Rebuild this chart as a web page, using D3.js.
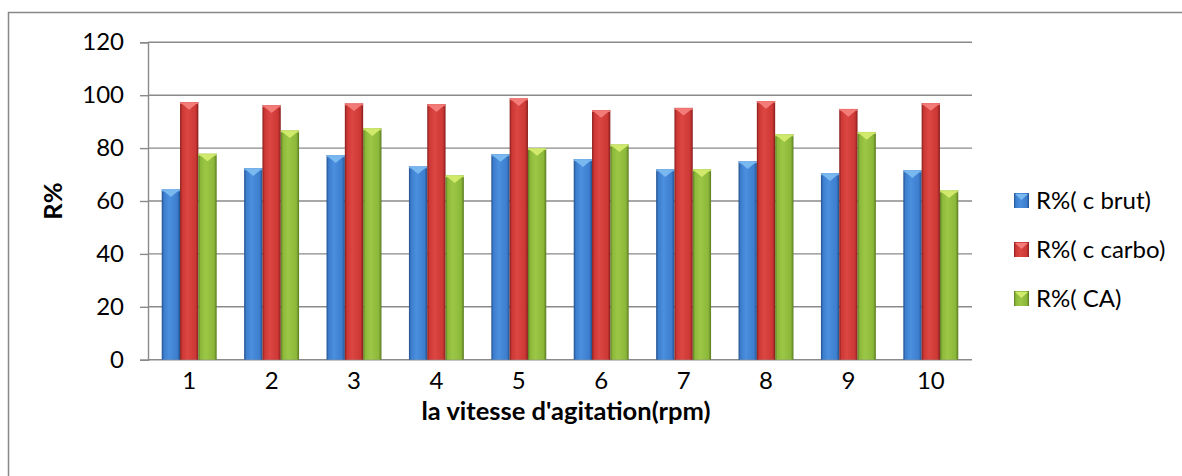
<!DOCTYPE html>
<html>
<head>
<meta charset="utf-8">
<script src="https://cdn.jsdelivr.net/npm/d3@7"></script>
<style>
  html, body { margin: 0; padding: 0; background: #fff; }
  svg { display: block; }
  text { font-family: Lato, "Open Sans", sans-serif; fill: #000; }
</style>
</head>
<body>
<svg id="chart" width="1182" height="476"></svg>
<script>
// Removal rate R% by agitation speed setting
const categories = ["1", "2", "3", "4", "5", "6", "7", "8", "9", "10"];
const seriesNames = ["R%( c brut)", "R%( c carbo)", "R%( CA)"];
const brut  = [64.4, 72.4, 77.3, 73.1, 77.7, 75.8, 72.0, 75.0, 70.5, 71.6];
const carbo = [97.4, 96.2, 96.9, 96.6, 98.8, 94.4, 95.2, 97.8, 94.8, 97.0];
const ca    = [77.9, 86.7, 87.5, 69.7, 80.0, 81.4, 72.0, 85.2, 86.1, 64.0];
const yTicks = [0, 20, 40, 60, 80, 100, 120];
const xTitle = "la vitesse d'agitation(rpm)";
const yTitle = "R%";

const series = [brut, carbo, ca];

// base, light (top bevel) and dark (edge) tones for each series
const palette = [
  { base: "#3d7dcd", light: "#7ab8f0", dark: "#21508c", mid: "#4b8fdf" },
  { base: "#cc3835", light: "#f37c79", dark: "#861d1b", mid: "#dc4643" },
  { base: "#8cb83a", light: "#d2ea6c", dark: "#5a7a20", mid: "#9cc746" }
];

const svg = d3.select("#chart");
const defs = svg.append("defs");

palette.forEach((p, i) => {
  const g = defs.append("linearGradient")
    .attr("id", "body" + i).attr("x1", "0").attr("x2", "1").attr("y1", "0").attr("y2", "0");
  g.append("stop").attr("offset", "0%").attr("stop-color", p.dark);
  g.append("stop").attr("offset", "12%").attr("stop-color", p.base);
  g.append("stop").attr("offset", "40%").attr("stop-color", p.mid);
  g.append("stop").attr("offset", "85%").attr("stop-color", p.base);
  g.append("stop").attr("offset", "100%").attr("stop-color", p.dark);
});

// chart frame
svg.append("rect")
  .attr("x", 8.5).attr("y", 12.5).attr("width", 1200).attr("height", 500)
  .attr("fill", "none").attr("stroke", "#878787").attr("stroke-width", 1.5);

const plot = { left: 148, right: 972, top: 42.3, bottom: 359.7 };

const x0 = d3.scaleBand().domain(categories)
  .range([plot.left, plot.right]).paddingInner(1.5 / 4.5).paddingOuter(0.75 / 4.5);
const x1 = d3.scaleBand().domain(d3.range(series.length))
  .range([0, x0.bandwidth()]);
const y = d3.scaleLinear().domain([0, 120]).range([plot.bottom, plot.top]);

// horizontal gridlines
svg.append("g").selectAll("line").data(yTicks.filter(d => d > 0)).join("line")
  .attr("x1", plot.left).attr("x2", plot.right)
  .attr("y1", d => y(d)).attr("y2", d => y(d))
  .attr("stroke", "#8a8a8a").attr("stroke-width", 1.4);

// y axis with outside ticks
const yAxis = svg.append("g")
  .attr("transform", `translate(${plot.left},0)`)
  .call(d3.axisLeft(y).tickValues(yTicks).tickSize(8).tickPadding(16));
yAxis.select(".domain").attr("stroke", "#8a8a8a").attr("stroke-width", 1.4);
yAxis.selectAll(".tick line").attr("stroke", "#8a8a8a").attr("stroke-width", 1.4);
yAxis.selectAll(".tick text").attr("font-size", 24).attr("font-family", "Lato, sans-serif").attr("fill", "#000");

// x axis (category labels)
const xAxis = svg.append("g")
  .attr("transform", `translate(0,${plot.bottom})`)
  .call(d3.axisBottom(x0).tickSize(0).tickPadding(12));
xAxis.select(".domain").attr("stroke", "#8a8a8a").attr("stroke-width", 1.4)
  .attr("d", `M${plot.left},0H${plot.right}`);
xAxis.selectAll(".tick text").attr("font-size", 24).attr("font-family", "Lato, sans-serif").attr("fill", "#000");

// bars with bevelled top
const rows = categories.map((c, i) => ({ c, vals: series.map(s => s[i]) }));
const groups = svg.append("g").selectAll("g").data(rows).join("g")
  .attr("transform", d => `translate(${x0(d.c)},0)`);

const bw = x1.bandwidth();
const bars = groups.selectAll("g").data(d => d.vals.map((v, k) => ({ v, k }))).join("g")
  .attr("transform", d => `translate(${x1(d.k)},0)`);

bars.append("rect")
  .attr("x", 0).attr("width", bw)
  .attr("y", d => y(d.v)).attr("height", d => y(0) - y(d.v))
  .attr("fill", d => `url(#body${d.k})`);

bars.append("rect")
  .attr("x", 0).attr("width", bw)
  .attr("y", d => y(d.v)).attr("height", 2)
  .attr("fill", d => palette[d.k].light).attr("opacity", 0.85);

bars.append("path")
  .attr("d", d => {
    const t = y(d.v);
    return `M1,${t + 1}L${bw - 1},${t + 1}L${bw / 2},${t + bw * 0.42}Z`;
  })
  .attr("fill", d => palette[d.k].light);

// axis titles
svg.append("text")
  .attr("transform", `translate(62,${(plot.top + plot.bottom) / 2}) rotate(-90)`)
  .attr("text-anchor", "middle").attr("font-size", 25.5).attr("font-weight", "bold")
  .text(yTitle);

svg.append("text")
  .attr("x", (plot.left + plot.right) / 2 + 6).attr("y", 420)
  .attr("text-anchor", "middle").attr("font-size", 25.5).attr("font-weight", "bold")
  .text(xTitle);

// legend
const legend = svg.append("g").selectAll("g").data(seriesNames).join("g")
  .attr("transform", (d, i) => `translate(1014,${193 + i * 49})`);
legend.append("rect").attr("width", 15).attr("height", 15)
  .attr("fill", (d, i) => `url(#body${i})`);
legend.append("path").attr("d", "M1,1L14,1L7.5,7Z")
  .attr("fill", (d, i) => palette[i].light);
legend.append("text").attr("x", 22).attr("y", 15.5)
  .attr("font-size", 24).text(d => d);
</script>
</body>
</html>
